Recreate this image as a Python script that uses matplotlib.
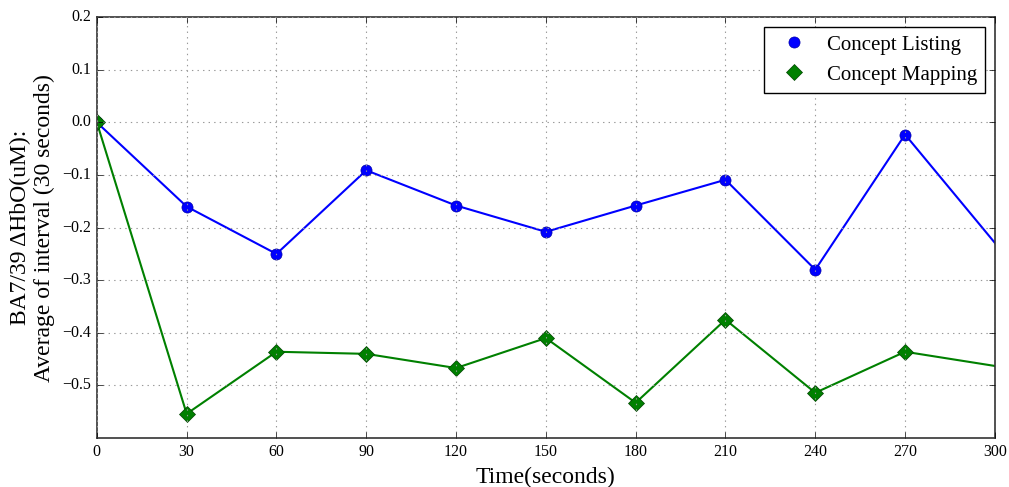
import matplotlib
matplotlib.use("Agg")
import matplotlib.pyplot as plt

plt.style.use("classic")
plt.rcParams["font.family"] = ["Liberation Serif", "DejaVu Serif"]

time_s = [0, 30, 60, 90, 120, 150, 180, 210, 240, 270, 330]
listing = [0.0, -0.160, -0.250, -0.091, -0.158, -0.208, -0.158, -0.109, -0.280, -0.023, -0.435]
mapping = [0.0, -0.554, -0.436, -0.440, -0.467, -0.410, -0.533, -0.375, -0.514, -0.436, -0.490]
x_ticks = [0, 30, 60, 90, 120, 150, 180, 210, 240, 270, 300]
y_ticks = [-0.5, -0.4, -0.3, -0.2, -0.1, 0.0, 0.1, 0.2]

fig = plt.figure(figsize=(10.09, 4.87), dpi=100, facecolor="white")
ax = fig.add_axes([0.096, 0.1006, 0.89, 0.864])

ax.plot(time_s, listing, color="b", lw=1.5)
ax.plot(time_s, mapping, color="g", lw=1.5)
ax.plot(time_s, listing, ls="", marker="o", ms=8, color="b", mec="#0000aa", label="Concept Listing")
ax.plot(time_s, mapping, ls="", marker="D", ms=8, color="g", mec="#004400", label="Concept Mapping")

ax.set_xlim(0, 300)
ax.set_ylim(-0.6, 0.2)
ax.set_xticks(x_ticks)
ax.set_yticks(y_ticks)
ax.set_yticklabels([f"{v:.1f}".replace("-", "\u2212") for v in y_ticks])
ax.tick_params(labelsize=11.5)
ax.grid(True, color="#999999", linestyle=":", linewidth=0.8)
for sp in ax.spines.values():
    sp.set_color("#333333")
    sp.set_linewidth(1.2)

ax.set_xlabel("Time(seconds)", fontsize=17)
ax.set_ylabel("BA7/39 \u0394HbO(uM):\nAverage of interval (30 seconds)", fontsize=17, multialignment="center")

ax.legend(loc="upper right", numpoints=1, fontsize=15, fancybox=False,
          borderaxespad=0.45, handletextpad=0.6)

fig.savefig("out.png", dpi=100, facecolor="white")
